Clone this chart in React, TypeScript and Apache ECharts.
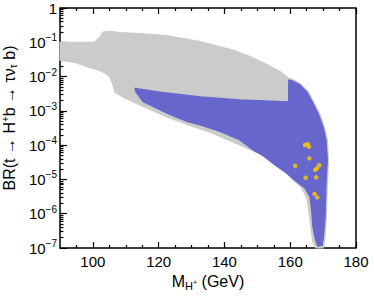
import React, { useEffect, useRef } from 'react';
import * as echarts from 'echarts';

// Scan region: all points (gray), mass in GeV, BR value
const grayRegion: [number, number][] = [
  [90, 0.099], [100.6, 0.102], [102.2, 0.143], [103.1, 0.2], [105.2, 0.207], [108.2, 0.193],
  [114.3, 0.18], [122.5, 0.158], [132.6, 0.1055], [142.6, 0.0596], [147.8, 0.0385],
  [152.9, 0.0225], [156.9, 0.0141], [159.5, 0.0091],
  [161.0, 0.0080], [163.4, 0.0058], [165.5, 0.0036], [167.3, 0.0017], [168.9, 8.65e-4],
  [170.4, 3.4e-4], [171.3, 1.41e-4], [171.6, 3.7e-5], [171.3, 7.9e-6], [171.0, 8.0e-7],
  [170.5, 1.7e-7], [170.0, 1e-7], [167.8, 1e-7], [166.9, 1.5e-7], [166.3, 3.8e-7],
  [165.7, 1.12e-6], [165.1, 2.9e-6], [163.3, 6.0e-6], [160.5, 1.03e-5], [157.8, 2.3e-5],
  [150.8, 5.5e-5], [142.6, 1.24e-4], [135.6, 2.4e-4], [130.4, 3.5e-4], [122.5, 6.6e-4],
  [114.3, 1.48e-3], [109.2, 2.5e-3], [106.7, 3.55e-3], [106.1, 5.7e-3], [105.2, 9.7e-3],
  [103.7, 0.0127], [101.6, 0.0156], [97.6, 0.0203], [94.6, 0.0257], [90, 0.03],
];

// Allowed region (blue)
const blueRegion: [number, number][] = [
  [112.8, 4.5e-3], [120.4, 3.55e-3], [132.6, 2.55e-3], [144.7, 2.08e-3], [159.5, 1.84e-3],
  [159.5, 7.9e-3], [160.5, 7.7e-3], [163.0, 5.7e-3], [165.1, 3.55e-3], [166.9, 1.7e-3],
  [168.4, 8.6e-4], [170.0, 3.4e-4], [170.9, 1.41e-4], [171.3, 3.7e-5], [170.9, 7.9e-6],
  [170.6, 8.0e-7], [170.1, 2.1e-7], [169.7, 1.18e-7], [168.4, 1.14e-7], [167.7, 1.7e-7],
  [166.9, 4.1e-7], [166.5, 1.28e-6], [166.0, 3.1e-6], [164.5, 5.6e-6], [162.1, 8.4e-6],
  [159.0, 1.49e-5], [154.8, 2.9e-5], [151.7, 5.0e-5], [148.7, 7.2e-5], [144.7, 1.41e-4],
  [138.7, 2.5e-4], [132.6, 3.9e-4], [128.6, 4.9e-4], [122.5, 8.6e-4], [115.2, 1.88e-3],
  [113.1, 3.55e-3],
];

// Highlighted points (yellow)
const benchmarkPoints: [number, number][] = [
  [164.5, 1.01e-4], [165.3, 1.08e-4], [165.7, 9.0e-5], [165.8, 4.1e-5], [161.5, 2.5e-5],
  [168.8, 2.6e-5], [168.1, 2.1e-5], [167.6, 1.9e-5], [164.7, 1.12e-5], [167.9, 1.15e-5],
  [167.4, 3.8e-6], [168.2, 3.0e-6],
];

const xMajorTicks = [100, 120, 140, 160, 180];
const xMinorTicks = [95, 105, 110, 115, 125, 130, 135, 145, 150, 155, 165, 170, 175];
const yDecades = [-7, -6, -5, -4, -3, -2, -1, 0];
const yMinorMultipliers = [2, 3, 4, 5, 6, 7, 8, 9];

const FONT = '"Liberation Sans", Arial, Helvetica, sans-serif';

const toLog = (pts: [number, number][]) => pts.map(([x, y]) => [x, Math.log10(y)]);

export default function App() {
  const ref = useRef<HTMLDivElement>(null);
  useEffect(() => {
    if (!ref.current) return;
    const chart = echarts.init(ref.current, undefined, { renderer: 'svg' });
    const yMinor: number[] = [];
    yDecades.slice(0, -1).forEach((d) => yMinorMultipliers.forEach((m) => yMinor.push(d + Math.log10(m))));

    const grayLog = toLog(grayRegion);
    const blueLog = toLog(blueRegion);

    const polygonSeries = (name: string, pts: number[][], color: string) => ({
      type: 'custom',
      name,
      xAxisIndex: 0,
      yAxisIndex: 0,
      data: pts,
      encode: { x: 0, y: 1 },
      silent: true,
      renderItem: (params: any, api: any) => {
        if (params.dataIndex !== 0) return null;
        const points = pts.map((p) => api.coord(p));
        return {
          type: 'polygon',
          shape: { points },
          style: { fill: color, stroke: color, lineWidth: 1.2 },
        };
      },
    });

    const tickLine = { color: '#000', width: 1.2 };
    const baseX = {
      type: 'value',
      min: 90,
      max: 180,
      splitLine: { show: false },
      axisLine: { show: false, onZero: false },
    };
    const baseY = {
      type: 'value',
      min: -7,
      max: 0,
      splitLine: { show: false },
      axisLine: { show: false, onZero: false },
    };

    const option: any = {
      animation: false,
      textStyle: { fontFamily: FONT },
      grid: {
        left: 60,
        right: 18,
        top: 8,
        bottom: 49,
        show: true,
        borderColor: '#000',
        borderWidth: 1.5,
        backgroundColor: 'transparent',
        outerBoundsMode: 'none',
      },
      xAxis: [
        {
          ...baseX,
          position: 'bottom',
          axisTick: { show: true, inside: true, length: 6, customValues: xMajorTicks, lineStyle: tickLine },
          axisLabel: { customValues: xMajorTicks, fontSize: 15, color: '#000', margin: 6, fontFamily: FONT },
          name: 'M{sub|H}{ss|+} (GeV)',
          nameLocation: 'middle',
          nameGap: 22,
          nameTextStyle: {
            fontSize: 16,
            color: '#000',
            fontFamily: FONT,
            rich: {
              sub: { fontSize: 11, color: '#000', fontFamily: FONT, padding: [9, 0, 0, 0] },
              ss: { fontSize: 7, color: '#000', fontFamily: FONT, padding: [2, 0, 0, 0] },
            },
          },
        },
        {
          ...baseX,
          position: 'bottom',
          axisTick: { show: true, inside: true, length: 3, customValues: xMinorTicks, lineStyle: tickLine },
          axisLabel: { show: false },
        },
        {
          ...baseX,
          position: 'top',
          axisTick: { show: true, inside: true, length: 6, customValues: xMajorTicks, lineStyle: tickLine },
          axisLabel: { show: false },
        },
        {
          ...baseX,
          position: 'top',
          axisTick: { show: true, inside: true, length: 3, customValues: xMinorTicks, lineStyle: tickLine },
          axisLabel: { show: false },
        },
      ],
      yAxis: [
        {
          ...baseY,
          position: 'left',
          interval: 1,
          axisTick: { show: true, inside: true, length: 7, lineStyle: tickLine },
          axisLabel: {
            margin: 3,
            color: '#000',
            fontFamily: FONT,
            formatter: (v: number) => (v === 0 ? '{b|1}' : `{b|10}{s|\u2212${-v}}`),
            rich: {
              b: { fontSize: 15, color: '#000', fontFamily: FONT },
              s: { fontSize: 10, color: '#000', fontFamily: FONT, padding: [0, 0, 9, 0] },
            },
          },
          name: 'BR(t \u2192 H{sup|+}b \u2192 \u03C4\u03BD{sub|\u03C4} b)',
          nameLocation: 'middle',
          nameGap: 40,
          nameTextStyle: {
            fontSize: 16,
            color: '#000',
            fontFamily: FONT,
            padding: [0, 0, 0, 20],
            rich: {
              sup: { fontSize: 10, color: '#000', fontFamily: FONT, padding: [0, 0, 8, 0] },
              sub: { fontSize: 10, color: '#000', fontFamily: FONT, padding: [8, 0, 0, 0] },
            },
          },
        },
        {
          ...baseY,
          position: 'left',
          axisTick: { show: true, inside: true, length: 3.5, customValues: yMinor, lineStyle: tickLine },
          axisLabel: { show: false },
        },
      ],
      series: [
        polygonSeries('All points', grayLog, '#cbcbcb'),
        polygonSeries('Allowed', blueLog, '#6666cc'),
        {
          type: 'scatter',
          name: 'Benchmarks',
          xAxisIndex: 0,
          yAxisIndex: 0,
          data: toLog(benchmarkPoints),
          symbol: 'circle',
          symbolSize: 4.5,
          itemStyle: { color: '#ffcc00' },
          silent: true,
        },
      ],
    };
    chart.setOption(option);
    return () => chart.dispose();
  }, []);
  return (
    <div
      ref={ref}
      style={{ position: 'fixed', left: 0, top: 0, width: 374, height: 297, background: '#fff' }}
    />
  );
}
